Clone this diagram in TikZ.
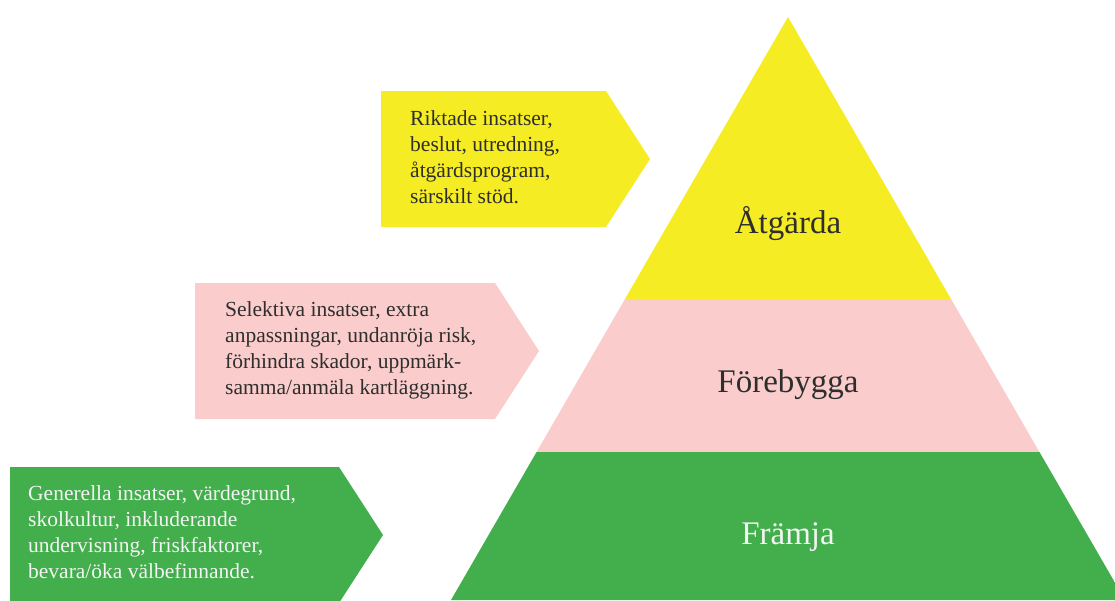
\documentclass[tikz,border=0pt]{standalone}
\usepackage{fontspec}
\setmainfont{Liberation Serif}
\usepackage{tikz}

\definecolor{gul}{HTML}{F5EC23}
\definecolor{rosa}{HTML}{FACDCC}
\definecolor{gron}{HTML}{42AE4C}
\definecolor{morktext}{HTML}{2E2E2E}
\definecolor{ljustext}{HTML}{F4F4F4}

\tikzset{
    rutatext/.style={anchor=north west, inner sep=0pt, align=left,
        font=\fontsize{21.5}{26}\selectfont},
    nivatext/.style={anchor=base, inner sep=0pt,
        font=\fontsize{33}{38}\selectfont}
}

\begin{document}
\begin{tikzpicture}[x=1pt, y=-1pt]
                \useasboundingbox (0,0) rectangle (1115,600);
                \clip (0,0) rectangle (1115,600);
                % pyramiden
                \begin{scope}
                    \clip (788,17) -- (451,600) -- (1125,600) -- cycle;
                    \fill[gul] (400,0) rectangle (1200,299);
                    \fill[rosa] (400,299) rectangle (1200,452);
                    \fill[gron] (400,452) rectangle (1200,610);
                \end{scope}
                \node[nivatext, text=morktext] (atgarda) at (788,233) {Åtgärda};
                \node[nivatext, text=morktext] (forebygga) at (788,392) {Förebygga};
                \node[nivatext, text=ljustext] (framja) at (788,544) {Främja};
                % pilarna till vänster
                \fill[gul] (381,91) -- (606,91) -- (650,159) -- (606,227) -- (381,227) -- cycle;
                \fill[rosa] (195,283) -- (495,283) -- (539,351) -- (495,419) -- (195,419) -- cycle;
                \fill[gron] (10,467) -- (339,467) -- (383,535) -- (339,603) -- (10,603) -- cycle;
                \node[rutatext, text=morktext] (riktade) at (410,110.5)
                    {Riktade insatser,\\beslut, utredning,\\åtgärdsprogram,\\särskilt stöd.};
                \node[rutatext, text=morktext] (selektiva) at (225,301.5)
                    {Selektiva insatser, extra\\anpassningar, undanröja risk,\\förhindra skador, uppmärk-\\samma/anmäla kartläggning.};
                \node[rutatext, text=ljustext] (generella) at (28,485.5)
                    {Generella insatser, värdegrund,\\skolkultur, inkluderande\\undervisning, friskfaktorer,\\bevara/öka välbefinnande.};
\end{tikzpicture}
\end{document}
